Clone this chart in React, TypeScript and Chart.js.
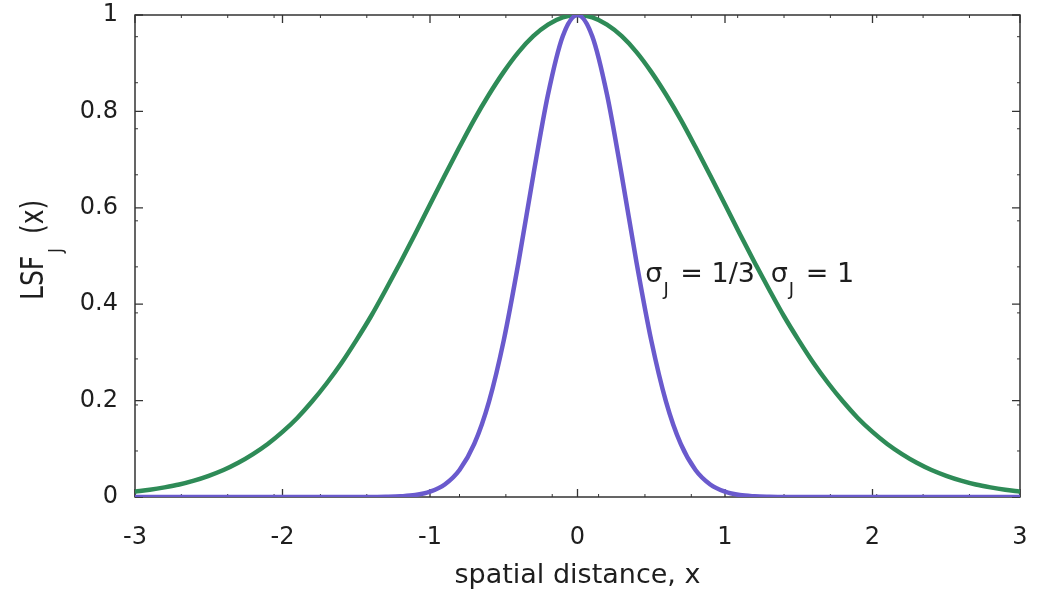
import { useEffect, useRef } from 'react';
import { Chart, registerables } from 'chart.js';

Chart.register(...registerables);

const FONT = '"DejaVu Sans", sans-serif';
const TEXT_COLOR = '#1e1e1e';
const FRAME_COLOR = '#333333';

// x positions (spatial distance)
const xValues = [
  -3.0, -2.9, -2.8, -2.7, -2.6, -2.5, -2.4, -2.3, -2.2, -2.1,
  -2.0, -1.9, -1.8, -1.7, -1.6, -1.5, -1.4, -1.3, -1.2, -1.1,
  -1.0, -0.9, -0.8, -0.7, -0.6, -0.5, -0.4, -0.3, -0.2, -0.1,
  0.0,
  0.1, 0.2, 0.3, 0.4, 0.5, 0.6, 0.7, 0.8, 0.9, 1.0,
  1.1, 1.2, 1.3, 1.4, 1.5, 1.6, 1.7, 1.8, 1.9, 2.0,
  2.1, 2.2, 2.3, 2.4, 2.5, 2.6, 2.7, 2.8, 2.9, 3.0,
];

// sigma_J = 1 (green)
const lsfWide = [
  0.011, 0.015, 0.020, 0.026, 0.034, 0.044, 0.056, 0.071, 0.089, 0.110,
  0.135, 0.164, 0.198, 0.236, 0.278, 0.325, 0.375, 0.430, 0.487, 0.546,
  0.607, 0.667, 0.726, 0.783, 0.835, 0.882, 0.923, 0.956, 0.980, 0.995,
  1.0,
  0.995, 0.980, 0.956, 0.923, 0.882, 0.835, 0.783, 0.726, 0.667, 0.607,
  0.546, 0.487, 0.430, 0.375, 0.325, 0.278, 0.236, 0.198, 0.164, 0.135,
  0.110, 0.089, 0.071, 0.056, 0.044, 0.034, 0.026, 0.020, 0.015, 0.011,
];

// sigma_J = 1/3 (purple)
const lsfNarrow = [
  0, 0, 0, 0, 0, 0, 0, 0, 0, 0,
  0, 0, 0, 0, 0, 0, 0, 0.0005, 0.0015, 0.004,
  0.011, 0.026, 0.056, 0.110, 0.198, 0.325, 0.487, 0.667, 0.835, 0.956,
  1.0,
  0.956, 0.835, 0.667, 0.487, 0.325, 0.198, 0.110, 0.056, 0.026, 0.011,
  0.004, 0.0015, 0.0005, 0, 0, 0, 0, 0, 0, 0,
  0, 0, 0, 0, 0, 0, 0, 0, 0, 0,
];

const xTickValues = [-3, -2, -1, 0, 1, 2, 3];
const yTickValues = [0, 0.2, 0.4, 0.6, 0.8, 1];

const labelNarrow = { x: 0.46, y: 0.446, sigma: 'σ', sub: 'J', rest: ' = 1/3' };
const labelWide = { x: 1.31, y: 0.446, sigma: 'σ', sub: 'J', rest: ' = 1' };

export default function App() {
  const ref = useRef<HTMLCanvasElement>(null);

  useEffect(() => {
    document.body.style.margin = '0';
    const canvas = ref.current;
    if (!canvas) return;

    const xMinor: number[] = [];
    for (let k = 1; k <= 18; k++) xMinor.push(-3 + k * 0.3143);
    const yMinor: number[] = [];
    for (let k = 1; k <= 10; k++) yMinor.push(k * 0.0955);

    const framePlugin = {
      id: 'framePlugin',
      beforeDatasetsDraw(chart: any) {
        const { ctx, chartArea: a, scales } = chart;
        const xs = scales.x;
        const ys = scales.y;
        ctx.save();
        ctx.strokeStyle = FRAME_COLOR;
        ctx.lineWidth = 1.5;
        ctx.strokeRect(a.left, a.top, a.right - a.left, a.bottom - a.top);
        ctx.lineWidth = 1.3;
        ctx.beginPath();
        xTickValues.forEach((v) => {
          const p = xs.getPixelForValue(v);
          ctx.moveTo(p, a.bottom);
          ctx.lineTo(p, a.bottom - 8);
          ctx.moveTo(p, a.top);
          ctx.lineTo(p, a.top + 8);
        });
        yTickValues.forEach((v) => {
          const p = ys.getPixelForValue(v);
          ctx.moveTo(a.left, p);
          ctx.lineTo(a.left + 8, p);
          ctx.moveTo(a.right, p);
          ctx.lineTo(a.right - 8, p);
        });
        ctx.stroke();
        ctx.lineWidth = 1;
        ctx.beginPath();
        xMinor.forEach((v) => {
          const p = xs.getPixelForValue(v);
          ctx.moveTo(p, a.bottom);
          ctx.lineTo(p, a.bottom - 3);
          ctx.moveTo(p, a.top);
          ctx.lineTo(p, a.top + 3);
        });
        yMinor.forEach((v) => {
          const p = ys.getPixelForValue(v);
          ctx.moveTo(a.left, p);
          ctx.lineTo(a.left + 3, p);
          ctx.moveTo(a.right, p);
          ctx.lineTo(a.right - 3, p);
        });
        ctx.stroke();
        ctx.restore();
      },
      afterDatasetsDraw(chart: any) {
        const { ctx, chartArea: a, scales } = chart;
        const xs = scales.x;
        const ys = scales.y;
        ctx.save();
        ctx.fillStyle = TEXT_COLOR;
        ctx.textBaseline = 'alphabetic';
        ctx.textAlign = 'left';

        [labelNarrow, labelWide].forEach((lab) => {
          let px = xs.getPixelForValue(lab.x);
          const py = ys.getPixelForValue(lab.y);
          ctx.font = `27px ${FONT}`;
          ctx.fillText(lab.sigma, px, py);
          px += ctx.measureText(lab.sigma).width + 1;
          ctx.font = `18px ${FONT}`;
          ctx.fillText(lab.sub, px, py + 13);
          px += ctx.measureText(lab.sub).width + 3;
          ctx.font = `27px ${FONT}`;
          ctx.fillText(lab.rest, px, py);
        });

        // x axis title
        ctx.font = `27px ${FONT}`;
        ctx.textAlign = 'center';
        ctx.fillText('spatial distance, x', (a.left + a.right) / 2, 583);

        // y axis title (rotated)
        ctx.textAlign = 'left';
        ctx.translate(43, 300);
        ctx.rotate(-Math.PI / 2);
        ctx.scale(1, 1.28);
        ctx.font = `25px ${FONT}`;
        ctx.fillText('LSF', 0, 0);
        const w = ctx.measureText('LSF').width;
        ctx.font = `15px ${FONT}`;
        ctx.fillText('J', w + 3, 15);
        ctx.font = `25px ${FONT}`;
        ctx.fillText('(x)', 66, 0);
        ctx.restore();
      },
    };

    const chart = new Chart(canvas, {
      type: 'line',
      data: {
        datasets: [
          {
            label: 'σJ = 1/3',
            data: xValues.map((x, i) => ({ x, y: lsfNarrow[i] })),
            borderColor: '#6a5acd',
            borderWidth: 4.5,
            pointRadius: 0,
            fill: false,
            cubicInterpolationMode: 'monotone',
          },
          {
            label: 'σJ = 1',
            data: xValues.map((x, i) => ({ x, y: lsfWide[i] })),
            borderColor: '#2e8b57',
            borderWidth: 4.5,
            pointRadius: 0,
            fill: false,
            cubicInterpolationMode: 'monotone',
          },
        ],
      },
      options: {
        responsive: false,
        animation: false,
        devicePixelRatio: 1,
        layout: { padding: { top: 15, right: 20, left: 0, bottom: 0 } },
        plugins: {
          legend: { display: false },
          tooltip: { enabled: false },
          title: { display: false },
        },
        scales: {
          x: {
            type: 'linear',
            min: -3,
            max: 3,
            afterFit: (s: any) => {
              s.height = 92;
              s.paddingLeft = 0;
              s.paddingRight = 0;
            },
            afterBuildTicks: (s: any) => { s.ticks = xTickValues.map((v) => ({ value: v })); },
            grid: { display: false, drawTicks: false },
            border: { display: false },
            ticks: {
              padding: 26,
              color: TEXT_COLOR,
              font: { family: FONT, size: 24 },
              maxRotation: 0,
            },
          },
          y: {
            type: 'linear',
            min: 0,
            max: 1,
            afterFit: (s: any) => {
              s.width = 135;
              s.paddingTop = 0;
              s.paddingBottom = 0;
            },
            afterBuildTicks: (s: any) => { s.ticks = yTickValues.map((v) => ({ value: v })); },
            grid: { display: false, drawTicks: false },
            border: { display: false },
            ticks: {
              padding: 17,
              color: TEXT_COLOR,
              font: { family: FONT, size: 24 },
              callback: (v: any) => String(Math.round(Number(v) * 10) / 10),
            },
          },
        },
      },
      plugins: [framePlugin],
    });

    return () => chart.destroy();
  }, []);

  return <canvas ref={ref} width={1040} height={589} style={{ display: 'block' }} />;
}
